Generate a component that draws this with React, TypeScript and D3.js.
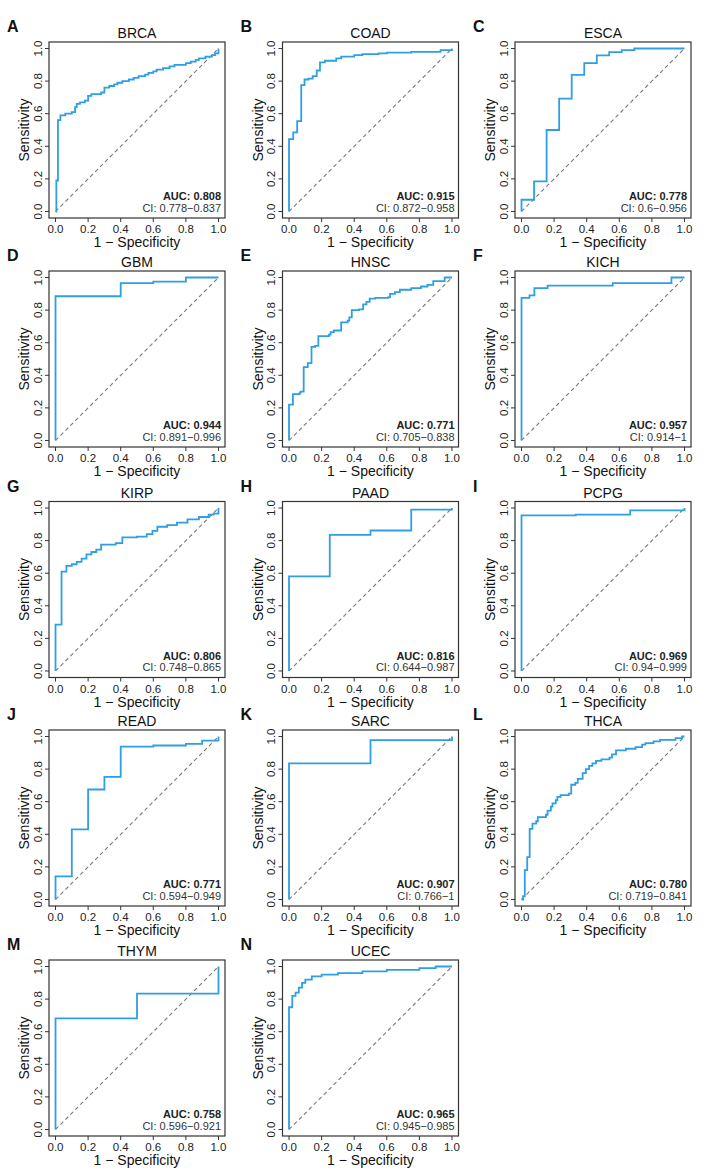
import React from "react";
import * as d3 from "d3";

// panel labels and titles
const letters = ["A", "B", "C", "D", "E", "F", "G", "H", "I", "J", "K", "L", "M", "N"];
const titles = ["BRCA", "COAD", "ESCA", "GBM", "HNSC", "KICH", "KIRP", "PAAD", "PCPG", "READ", "SARC", "THCA", "THYM", "UCEC"];
const aucValues = ["0.808", "0.915", "0.778", "0.944", "0.771", "0.957", "0.806", "0.816", "0.969", "0.771", "0.907", "0.780", "0.758", "0.965"];
const ciValues = ["0.778−0.837", "0.872−0.958", "0.6−0.956", "0.891−0.996", "0.705−0.838", "0.914−1", "0.748−0.865",
  "0.644−0.987", "0.94−0.999", "0.594−0.949", "0.766−1", "0.719−0.841", "0.596−0.921", "0.945−0.985"];
const tickValues = [0, 0.2, 0.4, 0.6, 0.8, 1.0];

// ROC curves: [1 - specificity, sensitivity] at each step
const rocBRCA = [[0, 0], [0.005, 0.19], [0.015, 0.56], [0.03, 0.59], [0.06, 0.6], [0.1, 0.61], [0.12, 0.64], [0.13, 0.66],
  [0.15, 0.67], [0.18, 0.68], [0.2, 0.71], [0.22, 0.72], [0.28, 0.73], [0.3, 0.76], [0.33, 0.77], [0.36, 0.78], [0.38, 0.79],
  [0.41, 0.8], [0.45, 0.81], [0.48, 0.82], [0.51, 0.83], [0.55, 0.84], [0.57, 0.85], [0.6, 0.86], [0.62, 0.87], [0.66, 0.88],
  [0.7, 0.89], [0.73, 0.9], [0.8, 0.91], [0.83, 0.92], [0.86, 0.93], [0.88, 0.94], [0.92, 0.95], [0.96, 0.96], [0.98, 0.97], [1, 1]];
const rocCOAD = [[0, 0], [0, 0.444], [0.026, 0.485], [0.05, 0.555], [0.075, 0.775], [0.095, 0.81], [0.12, 0.815],
  [0.145, 0.83], [0.17, 0.865], [0.19, 0.915], [0.22, 0.925], [0.29, 0.94], [0.32, 0.95], [0.4, 0.96], [0.45, 0.965],
  [0.55, 0.97], [0.6, 0.975], [0.75, 0.98], [0.93, 0.99], [1, 1]];
const rocESCA = [[0, 0], [0, 0.072], [0.077, 0.185], [0.154, 0.5], [0.231, 0.693], [0.308, 0.838], [0.385, 0.91],
  [0.462, 0.958], [0.538, 0.978], [0.615, 0.99], [0.692, 1], [1, 1]];
const rocGBM = [[0, 0], [0, 0.885], [0.4, 0.965], [0.6, 0.975], [0.8, 1], [1, 1]];
const rocHNSC = [[0, 0], [0, 0.22], [0.024, 0.285], [0.065, 0.29], [0.07, 0.3], [0.09, 0.45], [0.115, 0.475], [0.138, 0.575],
  [0.16, 0.58], [0.18, 0.64], [0.245, 0.65], [0.255, 0.665], [0.275, 0.675], [0.32, 0.725], [0.36, 0.735], [0.37, 0.755],
  [0.385, 0.8], [0.43, 0.805], [0.455, 0.835], [0.475, 0.85], [0.495, 0.87], [0.53, 0.875], [0.61, 0.88], [0.62, 0.9],
  [0.65, 0.91], [0.68, 0.925], [0.75, 0.935], [0.81, 0.945], [0.85, 0.955], [0.885, 0.978], [0.955, 1], [1, 1]];
const rocKICH = [[0, 0], [0, 0.875], [0.049, 0.89], [0.079, 0.935], [0.16, 0.95], [0.56, 0.965], [0.92, 1], [1, 1]];
const rocKIRP = [[0, 0], [0, 0.285], [0.037, 0.61], [0.067, 0.645], [0.1, 0.655], [0.13, 0.67], [0.16, 0.69], [0.19, 0.715],
  [0.22, 0.73], [0.25, 0.745], [0.28, 0.775], [0.37, 0.785], [0.41, 0.82], [0.5, 0.825], [0.56, 0.84], [0.595, 0.86],
  [0.625, 0.885], [0.685, 0.895], [0.745, 0.91], [0.81, 0.93], [0.88, 0.945], [0.94, 0.96], [0.97, 0.965], [1, 0.98], [1, 1]];
const rocPAAD = [[0, 0], [0, 0.58], [0.25, 0.835], [0.5, 0.862], [0.75, 0.99], [1, 1]];
const rocPCPG = [[0, 0], [0, 0.955], [0.333, 0.96], [0.667, 0.986], [1, 1]];
const rocREAD = [[0, 0], [0, 0.142], [0.1, 0.43], [0.2, 0.675], [0.3, 0.752], [0.4, 0.938], [0.6, 0.945], [0.8, 0.955],
  [0.9, 0.975], [1, 1]];
const rocSARC = [[0, 0], [0, 0.835], [0.5, 0.978], [1, 1]];
const rocTHCA = [[0, 0], [0.01, 0.02], [0.02, 0.18], [0.035, 0.26], [0.05, 0.433], [0.067, 0.465], [0.09, 0.48], [0.1, 0.505],
  [0.15, 0.52], [0.16, 0.545], [0.18, 0.57], [0.19, 0.59], [0.21, 0.61], [0.22, 0.63], [0.24, 0.64], [0.29, 0.65],
  [0.305, 0.704], [0.33, 0.715], [0.345, 0.74], [0.375, 0.775], [0.395, 0.8], [0.415, 0.82], [0.435, 0.835], [0.457, 0.85],
  [0.49, 0.86], [0.54, 0.87], [0.555, 0.89], [0.58, 0.915], [0.64, 0.925], [0.7, 0.935], [0.74, 0.95], [0.76, 0.96],
  [0.81, 0.97], [0.85, 0.98], [0.945, 0.99], [0.985, 1], [1, 1]];
const rocTHYM = [[0, 0], [0, 0.682], [0.5, 0.834], [1, 1]];
const rocUCEC = [[0, 0], [0, 0.75], [0.02, 0.82], [0.04, 0.84], [0.06, 0.87], [0.08, 0.9], [0.1, 0.92], [0.14, 0.94],
  [0.2, 0.95], [0.3, 0.96], [0.45, 0.97], [0.6, 0.98], [0.8, 0.99], [0.9, 1], [1, 1]];

const curves = [rocBRCA, rocCOAD, rocESCA, rocGBM, rocHNSC, rocKICH, rocKIRP, rocPAAD, rocPCPG, rocREAD, rocSARC, rocTHCA, rocTHYM, rocUCEC];

const colLefts = [49, 282.5, 515];
const rowTops = [42, 271, 501.5, 730, 960];
const W = 176, H = 176;
const FONT = "'Liberation Sans', Arial, sans-serif";
const BLUE = "#2e9fe2";

function Panel({ i }: { i: number }) {
  const L = colLefts[i % 3];
  const T = rowTops[Math.floor(i / 3)];
  const x = d3.scaleLinear().domain([-0.04, 1.04]).range([L, L + W]);
  const y = d3.scaleLinear().domain([-0.04, 1.04]).range([T + H, T]);
  const line = d3.line<number[]>()
    .x(d => x(d[0]))
    .y(d => y(d[1]))
    .curve(d3.curveStepAfter);

  return (
    <g>
      <text x={L - 42} y={T - 10} fontSize={16} fontWeight="bold" fill="#111">{letters[i]}</text>
      <text x={L + W / 2} y={T - 4} fontSize={14} textAnchor="middle" fill="#111">{titles[i]}</text>
      {/* diagonal reference */}
      <line x1={x(0)} y1={y(0)} x2={x(1)} y2={y(1)} stroke="#7a7a7a" strokeWidth={1.1} strokeDasharray="4,3" />
      <path d={line(curves[i]) || ""} fill="none" stroke={BLUE} strokeWidth={1.8} />
      <rect x={L} y={T} width={W} height={H} fill="none" stroke="#333" strokeWidth={1.2} />
      {tickValues.map(t => (
        <g key={"x" + t}>
          <line x1={x(t)} x2={x(t)} y1={T + H} y2={T + H + 4} stroke="#333" />
          <text x={x(t)} y={T + H + 15} fontSize={11.5} textAnchor="middle" fill="#222">{t.toFixed(1)}</text>
        </g>
      ))}
      {tickValues.map(t => (
        <g key={"y" + t}>
          <line x1={L} x2={L - 4} y1={y(t)} y2={y(t)} stroke="#333" />
          <text transform={`translate(${L - 7.5},${y(t)}) rotate(-90)`} fontSize={11.5} textAnchor="middle" fill="#222">{t.toFixed(1)}</text>
        </g>
      ))}
      <text x={L + W / 2} y={T + H + 29} fontSize={14} textAnchor="middle" fill="#111">1 − Specificity</text>
      <text transform={`translate(${L - 20},${T + H / 2}) rotate(-90)`} fontSize={14} textAnchor="middle" fill="#111">Sensitivity</text>
      <text x={L + W - 4} y={T + 158} fontSize={11} textAnchor="end" fill="#222" fontWeight="bold">
        AUC: {aucValues[i]}
      </text>
      <text x={L + W - 4} y={T + 169.5} fontSize={11} textAnchor="end" fill="#333">CI: {ciValues[i]}</text>
    </g>
  );
}

export default function App() {
  return (
    <svg width={705} height={1170} style={{ position: "absolute", left: 0, top: 0, background: "#fff" }} fontFamily={FONT}>
      <rect width={705} height={1170} fill="#fff" />
      {titles.map((_, i) => <Panel key={i} i={i} />)}
    </svg>
  );
}
